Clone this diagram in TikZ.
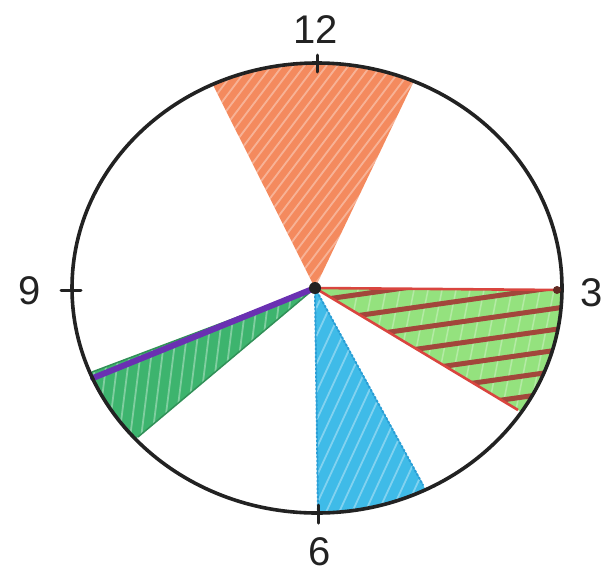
\documentclass[tikz,border=0pt]{standalone}
\usepackage{fontspec}
\setmainfont{Liberation Sans}
\usetikzlibrary{calc}
\definecolor{orangeS}{HTML}{F48A5E}
\definecolor{lgreen}{HTML}{94E27E}
\definecolor{brownS}{HTML}{A2473B}
\definecolor{redS}{HTML}{D9453F}
\definecolor{blueS}{HTML}{3FBBE8}
\definecolor{blueD}{HTML}{2A9FD6}
\definecolor{dgreen}{HTML}{3DB46E}
\definecolor{purpleS}{HTML}{6A30B2}
\definecolor{inkS}{HTML}{222222}
\tikzset{
  clockline/.style={draw=inkS,line width=3.6pt},
  tickmark/.style={draw=inkS,line width=3pt,line cap=round},
  hour/.style={font=\fontsize{40}{40}\selectfont,text=inkS,inner sep=0pt},
  streak/.style={white,opacity=.35,line width=1.8pt},
}
\begin{document}
\begin{tikzpicture}[x=1pt,y=-1pt]
\useasboundingbox (0,0) rectangle (612,576);
\coordinate (c) at (315,288);
\coordinate (o) at (317,288);
% end points on the circle
\coordinate (oa) at (213,85);
\coordinate (ob) at (413,83);
\coordinate (ga) at (560,290);
\coordinate (gb) at (518,410);
\coordinate (ba) at (318,513);
\coordinate (bb) at (423,485);
\coordinate (la) at (92,372);
\coordinate (lb) at (138,437);
\coordinate (pa) at (93,378);
\begin{scope}
  \clip (o) ellipse [x radius=245,y radius=225];
  % orange sector
  \begin{scope}
    \clip (c) -- ($(c)!1.5!(oa)$) -- ($(c)!1.5!(ob)$) -- cycle;
    \fill[orangeS] (0,0) rectangle (612,576);
    \foreach \i in {-60,-49,...,520} \draw[streak] (\i,300) -- ++(250,-330);
  \end{scope}
  % green sector with brown stripes
  \begin{scope}
    \clip (c) -- ($(c)!1.35!(ga)$) -- ($(c)!1.35!(gb)$) -- cycle;
    \fill[lgreen] (0,0) rectangle (612,576);
    \foreach \i in {320,334,...,620} \draw[white,opacity=.3,line width=1.5pt] (\i,480) -- ++(40,-200);
    \foreach \y in {300,321,...,500} \draw[brownS,line width=5pt] (320,\y) -- (600,\y-40);
  \end{scope}
  % blue sector
  \begin{scope}
    \clip (c) -- ($(c)!1.2!(ba)$) -- ($(c)!1.2!(bb)$) -- cycle;
    \fill[blueS] (0,0) rectangle (612,576);
    \foreach \i in {200,213,...,520} \draw[streak] (\i,560) -- ++(120,-260);
  \end{scope}
  % left green sector
  \begin{scope}
    \clip (c) -- ($(c)!1.3!(la)$) -- ($(c)!1.3!(lb)$) -- cycle;
    \fill[dgreen] (0,0) rectangle (612,576);
    \foreach \i in {60,71,...,330} \draw[streak] (\i,470) -- ++(25,-200);
  \end{scope}
\end{scope}
% sector edges
\draw[blueD,line width=2pt,dotted,line cap=round] (c) -- (ba) (c) -- (bb);
\draw[redS,line width=2.6pt] (ga) -- (c) -- (gb);
\draw[dgreen!80!black,line width=1.5pt] (la) -- (c) -- (lb);
\draw[purpleS,line width=6pt,line cap=round] (c) -- (pa);
% clock circle
\draw[clockline] (o) ellipse [x radius=245,y radius=225];
% hub
\fill[inkS] (c) circle (6);
\fill[brownS!60!black] (557,290) circle (4);
% tick marks
\draw[tickmark] (317,55) -- (317,72);
\draw[tickmark] (318,505) -- (318,523);
\draw[tickmark] (61,290) -- (81,290);
% hour labels
\node[hour] (h12) at (316,30) {12};
\node[hour] (h3) at (592,293) {3};
\node[hour] (h6) at (320,552) {6};
\node[hour] (h9) at (30,291) {9};
\end{tikzpicture}
\end{document}
